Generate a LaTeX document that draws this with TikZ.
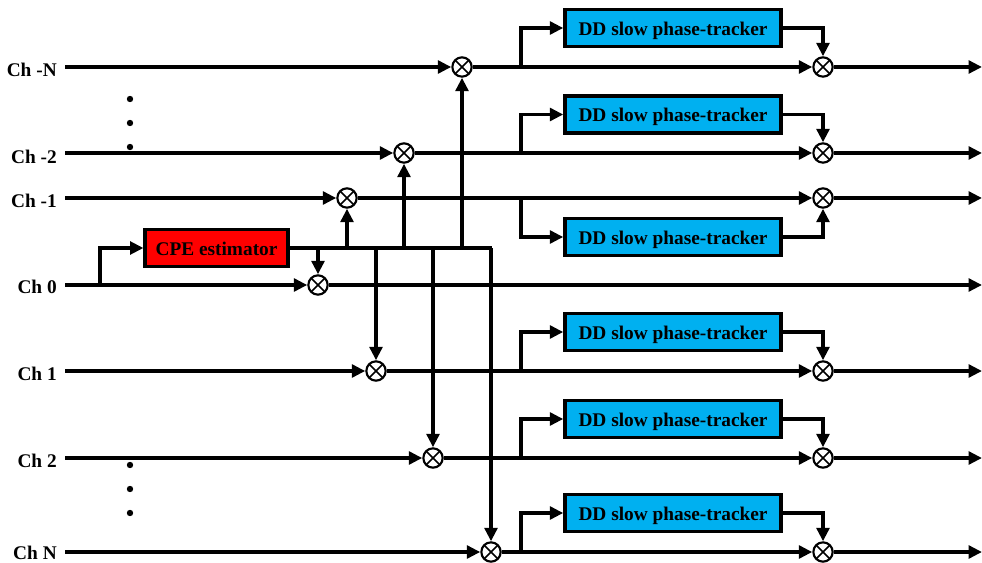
\documentclass[tikz,border=0pt]{standalone}
\usepackage{fontspec}
\setmainfont{Liberation Serif}
\usetikzlibrary{arrows.meta}
\definecolor{ddblue}{HTML}{00B0F0}
\tikzset{
  wire/.style={line width=2.6pt},
  arr/.style={wire,-{Triangle[length=10pt,width=9.5pt]}},
  mult/.style={circle,draw,line width=1.6pt,minimum size=14.5pt,inner sep=0pt,fill=white,
    path picture={
      \draw[line width=1.3pt] ([shift={(45:7.5pt)}]path picture bounding box.center) -- ([shift={(225:7.5pt)}]path picture bounding box.center);
      \draw[line width=1.3pt] ([shift={(135:7.5pt)}]path picture bounding box.center) -- ([shift={(-45:7.5pt)}]path picture bounding box.center);
    }},
  ddbox/.style={draw,line width=2.6pt,fill=ddblue,minimum width=162pt,minimum height=28pt,inner sep=0pt,
    text height=11pt,text depth=0pt,font=\fontsize{14.5}{16}\selectfont\bfseries},
  cpebox/.style={draw,line width=2.6pt,fill=red,minimum width=107pt,minimum height=28pt,inner sep=0pt,
    text height=11pt,text depth=0pt,font=\fontsize{14.5}{16}\selectfont\bfseries},
  chlabel/.style={anchor=east,inner sep=0pt,font=\fontsize{14.5}{16}\selectfont\bfseries},
  dotstyle/.style={circle,fill=black,inner sep=0pt,minimum size=4.8pt}
}
\begin{document}
\begin{tikzpicture}[x=0.75pt,y=-0.75pt]
\useasboundingbox (0,0) rectangle (982,563);
% channel labels
\node[chlabel] (lN) at (57,70) {Ch -N};
\node[chlabel] (l2n) at (57,157) {Ch -2};
\node[chlabel] (l1n) at (57,201) {Ch -1};
\node[chlabel] (l0) at (57,287) {Ch 0};
\node[chlabel] (l1) at (57,374) {Ch 1};
\node[chlabel] (l2) at (57,461) {Ch 2};
\node[chlabel] (lNp) at (57,553) {Ch N};
% dots
\node[dotstyle] (d1) at (130,99) {};
\node[dotstyle] (d2) at (130,123) {};
\node[dotstyle] (d3) at (130,147) {};
\node[dotstyle] (d4) at (130,465) {};
\node[dotstyle] (d5) at (130,489) {};
\node[dotstyle] (d6) at (130,513) {};
% inputs / outputs
\foreach \n/\y in {mN/67,m2n/153,m1n/198,m0/285,m1/371,m2/458,mNp/552}{
  \coordinate (in-\n) at (65,\y);
  \coordinate (out-\n) at (982,\y);
  \coordinate (t-\n) at (521,\y);
}
% CPE
\node[cpebox] (cpe) at (216.5,248) {CPE estimator};
\coordinate (t0) at (100,285);
\draw[arr] (t0) |- (cpe.west);
% first multipliers
\node[mult] (mN) at (462,67) {};
\node[mult] (m2n) at (404,153) {};
\node[mult] (m1n) at (347,198) {};
\node[mult] (m0) at (318,285) {};
\node[mult] (m1) at (376,371) {};
\node[mult] (m2) at (433,458) {};
\node[mult] (mNp) at (491,552) {};
% bus
\coordinate (busend) at (492,248);
\draw[wire] (cpe.east) -- (busend);
\foreach \n in {mN,m2n,m1n,m0,m1,m2,mNp}{
  \coordinate (b-\n) at (\n |- cpe.east);
  \draw[arr] (b-\n) -- (\n);
  \draw[arr] (in-\n) -- (\n);
}
\draw[arr] (m0) -- (out-m0);
% DD trackers and second multipliers
\node[ddbox] (dN) at (673,28) {DD slow phase-tracker};
\node[ddbox] (d2n) at (673,114.5) {DD slow phase-tracker};
\node[ddbox] (d1n) at (673,237) {DD slow phase-tracker};
\node[ddbox] (d1p) at (673,332) {DD slow phase-tracker};
\node[ddbox] (d2p) at (673,419) {DD slow phase-tracker};
\node[ddbox] (dNp) at (673,513) {DD slow phase-tracker};
\foreach \n/\d/\y in {mN/dN/67,m2n/d2n/153,m1n/d1n/198,m1/d1p/371,m2/d2p/458,mNp/dNp/552}{
  \node[mult] (p-\n) at (823,\y) {};
  \draw[arr] (\n) -- (p-\n);
  \draw[arr] (t-\n) |- (\d.west);
  \draw[arr] (\d.east) -| (p-\n);
  \draw[arr] (p-\n) -- (out-\n);
}
\end{tikzpicture}
\end{document}
